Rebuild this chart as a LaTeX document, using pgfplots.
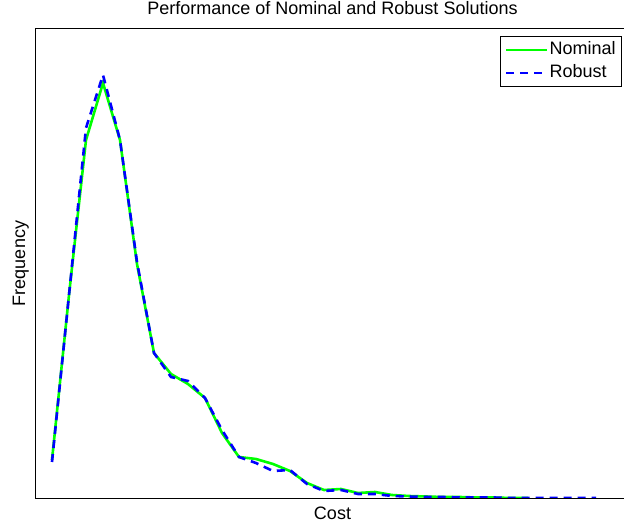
\documentclass[border=0pt]{standalone}
\usepackage{fontspec}
\setmainfont{Liberation Sans}
\usepackage{pgfplots}
\pgfplotsset{compat=1.18}

\definecolor{nomgreen}{RGB}{0,255,0}
\definecolor{robblue}{RGB}{0,0,255}

\begin{document}
\begin{tikzpicture}
\useasboundingbox (-35bp,-29bp) rectangle (589bp,498bp);
\begin{axis}[
  at={(0,0)}, anchor=south west,
  scale only axis,
  width=595bp, height=469bp,
  xmin=-1, xmax=34,
  ymin=0, ymax=469,
  xtick=\empty, ytick=\empty,
  axis line style={line width=1bp, black},
  font=\fontsize{18bp}{21bp}\selectfont,
  every axis title shift=0pt,
  title={Performance of Nominal and Robust Solutions},
  title style={at={(axis description cs:0.5,1.0299)}, anchor=base, inner sep=0pt},
  xlabel={Cost},
  xlabel style={at={(axis description cs:0.5,-0.0448)}, anchor=base, inner sep=0pt},
  ylabel={Frequency},
  ylabel style={at={(axis description cs:-0.0168,0.5)}, anchor=base, rotate=0, inner sep=0pt},
  legend cell align=left,
  legend style={
    at={(axis description cs:0.9866,0.9851)}, anchor=north east,
    draw=black, line width=0.8bp,
    inner xsep=5bp, inner ysep=4bp,
    row sep=4bp,
    nodes={inner sep=1bp, text height=13bp, text depth=4bp},
    font=\fontsize{18bp}{21bp}\selectfont,
  },
  legend image code/.code={\draw[#1] (0bp,0bp) -- (41bp,0bp);},
]
% nominal solution cost histogram
\addplot[color=nomgreen, line width=2.6bp] coordinates {
  (0,38) (1,203) (2,358) (3,415) (4,358) (5,234) (6,145) (7,124)
  (8,114) (9,100) (10,65) (11,41) (12,39) (13,34) (14,27) (15,15)
  (16,8) (17,9) (18,5) (19,6) (20,3) (21,2) (22,1.5) (23,1)
  (24,1) (25,0.5) (26,0.5) (27,0) (28,0)
};
\addlegendentry{Nominal}
% robust solution cost histogram
\addplot[color=robblue, line width=2.6bp, dash pattern=on 8bp off 6bp] coordinates {
  (0,36) (1,203) (2,370) (3,423) (4,358) (5,236) (6,145) (7,121)
  (8,117) (9,100) (10,68) (11,41) (12,35) (13,27) (14,28) (15,14)
  (16,7) (17,8) (18,4) (19,4) (20,2) (21,1.5) (22,1) (23,1)
  (24,0.5) (25,0.5) (26,0.5) (27,0) (28,0) (29,0) (30,0) (31,0) (32,0)
};
\addlegendentry{Robust}
\end{axis}
\end{tikzpicture}
\end{document}
